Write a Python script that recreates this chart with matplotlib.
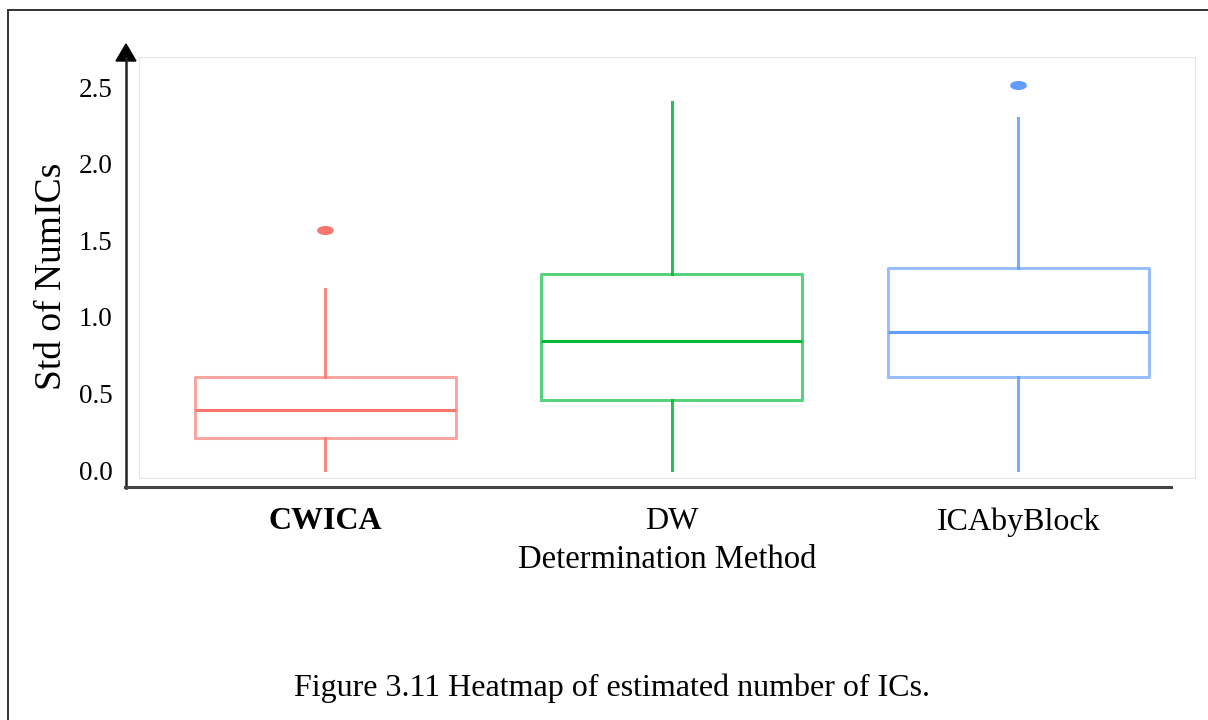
import numpy as np
import matplotlib
matplotlib.use("Agg")
import matplotlib.pyplot as plt
from matplotlib.lines import Line2D
from matplotlib.patches import Polygon

plt.rcParams['font.family'] = ['Liberation Serif', 'DejaVu Serif']

# box summaries per method
methods = ["CWICA", "DW", "ICAbyBlock"]
q1 = [0.21, 0.46, 0.61]
med = [0.39, 0.84, 0.90]
q3 = [0.61, 1.28, 1.32]
whislo = [0.0, 0.0, 0.0]
whishi = [1.18, 2.40, 2.30]
outliers = [[1.57], [], [2.51]]
colors = ["#F8766D", "#00BA38", "#619CFF"]
yticks = [0.0, 0.5, 1.0, 1.5, 2.0, 2.5]

W, H = 1208, 720
fig = plt.figure(figsize=(W / 100, H / 100), dpi=100)


def fx(x):
    return x / W


def fy(y):
    return 1 - y / H


ax = fig.add_axes([fx(139), fy(478), (1195 - 139) / W, (478 - 57) / H])

stats = []
for i in range(3):
    stats.append(dict(med=med[i], q1=q1[i], q3=q3[i], whislo=whislo[i],
                      whishi=whishi[i], fliers=outliers[i], label=methods[i]))

# flattened ellipse for the outlier points
t = np.linspace(0, 2 * np.pi, 40)
ell = np.column_stack([np.cos(t), 0.5 * np.sin(t)])

for i, s in enumerate(stats):
    c = colors[i]
    ax.bxp([s], positions=[i + 1], widths=0.753, showcaps=False,
           boxprops=dict(color=c, lw=2.2, alpha=0.65),
           medianprops=dict(color=c, lw=2.2),
           whiskerprops=dict(color=c, lw=2.2, alpha=0.85),
           flierprops=dict(marker=ell, markersize=11, markerfacecolor=c,
                           markeredgecolor=c, linestyle='none'))

ax.set_xlim(0.463, 3.51)
ax.set_ylim(-0.052, 2.696)
ax.set_yticks(yticks)
ax.set_yticklabels([f"{v:.1f}" for v in yticks], fontsize=19.5)
ax.set_xticks([1, 2, 3])
ax.set_xticklabels(methods, fontsize=23)
ax.get_xticklabels()[0].set_fontweight('bold')
ax.tick_params(axis='y', length=0, pad=19)
ax.tick_params(axis='x', length=0, pad=21)
for sp in ax.spines.values():
    sp.set_color('#e6e6e6')
    sp.set_linewidth(0.8)

ax.set_xlabel("Determination Method", fontsize=23.5, labelpad=6)
ax.set_ylabel("Std of NumICs", fontsize=27)
ax.yaxis.set_label_coords(-0.066, 0.48)

# axis lines with arrow drawn outside the panel
axc = '#222222'
fig.add_artist(Line2D([fx(126), fx(126)], [fy(488), fy(58)], color=axc, lw=1.8))
fig.add_artist(Line2D([fx(125), fx(1171)], [fy(487), fy(487)], color='#444444', lw=2.2))
fig.add_artist(Polygon([[fx(116), fy(61)], [fx(136), fy(61)], [fx(126), fy(44)]],
                       closed=True, color='black', transform=fig.transFigure))

# page frame
fig.add_artist(Line2D([fx(8), fx(1208)], [fy(10), fy(10)], color='#333333', lw=1.4))
fig.add_artist(Line2D([fx(8), fx(8)], [fy(10), fy(720)], color='#333333', lw=1.4))

fig.text(fx(612), fy(688), "Figure 3.11 Heatmap of estimated number of ICs.",
         ha='center', va='center', fontsize=23)

fig.savefig("out.png", dpi=100)
